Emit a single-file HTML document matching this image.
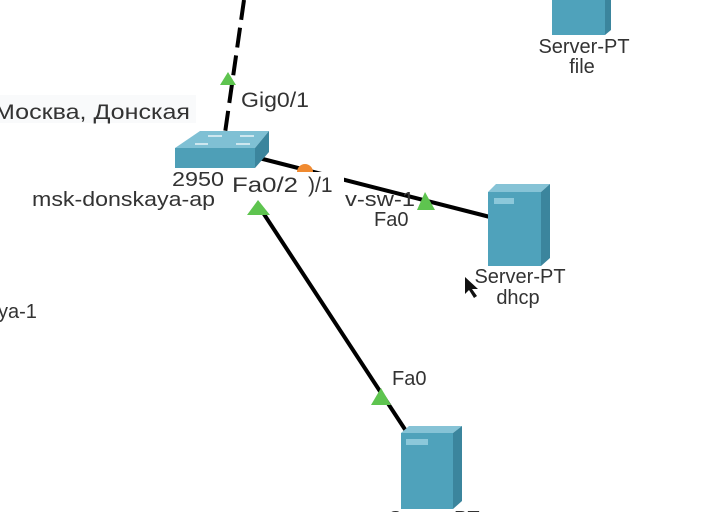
<!DOCTYPE html>
<html><head><meta charset="utf-8"><style>
html,body{margin:0;padding:0;background:#fff;width:724px;height:512px;overflow:hidden}
text{font-family:"Liberation Sans","DejaVu Sans",sans-serif;fill:#333}
</style></head><body>
<svg width="724" height="512" viewBox="0 0 724 512" xmlns="http://www.w3.org/2000/svg">
<rect width="724" height="512" fill="#fff"/>
<rect x="0" y="95" width="196" height="28" fill="#f9fafb"/>
<text x="-6" y="119" font-size="21" textLength="196" lengthAdjust="spacingAndGlyphs">Москва, Донская</text>
<line x1="244" y1="0" x2="224" y2="140" stroke="#000" stroke-width="4" stroke-dasharray="20,8"/>
<polygon points="228,72 220,85 236,85" fill="#5ec44f"/>
<text x="241" y="107" font-size="21" textLength="68" lengthAdjust="spacingAndGlyphs">Gig0/1</text>
<line x1="255" y1="157" x2="490" y2="217" stroke="#000" stroke-width="4"/>
<line x1="258" y1="205" x2="408" y2="434" stroke="#000" stroke-width="4"/>
<path d="M297,172 a8,8 0 0 1 16,0 z" fill="#f08a30"/>
<text x="172" y="186" font-size="20" textLength="52" lengthAdjust="spacingAndGlyphs">2950</text>
<text x="32" y="206" font-size="20" textLength="183" lengthAdjust="spacingAndGlyphs">msk-donskaya-ap</text>
<text x="345" y="206" font-size="20" fill="#888" textLength="70" lengthAdjust="spacingAndGlyphs">v-sw-1</text>
<rect x="228" y="172" width="116" height="24" fill="#fff"/>
<text x="232" y="192" font-size="21" fill="#222" textLength="66" lengthAdjust="spacingAndGlyphs">Fa0/2</text>
<text x="308" y="192" font-size="21" fill="#222">)/1</text>
<polygon points="425,192 417,210 435,210" fill="#5ec44f"/>
<polygon points="381,388 371,405 391,405" fill="#5ec44f"/>
<polygon points="258,200 247,215 270,215" fill="#5ec44f"/>
<text x="374" y="226" font-size="20">Fa0</text>
<text x="392" y="385" font-size="20">Fa0</text>
<polygon points="175,148 200,131 269,131 255,148" fill="#7fc0d4"/>
<rect x="175" y="148" width="80" height="20" fill="#4e9fb7"/>
<polygon points="255,148 269,131 269,152 255,168" fill="#3b859d"/>
<g stroke="#e8f4f8" stroke-width="1.5"><line x1="208" y1="136" x2="222" y2="136"/><line x1="240" y1="136" x2="254" y2="136"/><line x1="195" y1="144" x2="208" y2="144"/><line x1="236" y1="144" x2="250" y2="144"/></g>
<rect x="552" y="0" width="53" height="35" fill="#4fa2bb"/>
<polygon points="605,0 611,0 611,30 605,35" fill="#3b859d"/>
<text x="584" y="53" font-size="20" text-anchor="middle">Server-PT</text>
<text x="582" y="73" font-size="20" text-anchor="middle">file</text>
<polygon points="488,192 496,184 550,184 541,192" fill="#86c3d6"/>
<rect x="488" y="192" width="53" height="74" fill="#4fa2bb"/>
<polygon points="541,192 550,184 550,258 541,266" fill="#3b859d"/>
<rect x="494" y="198" width="20" height="6" fill="#8cc8da"/>
<text x="520" y="283" font-size="20" text-anchor="middle">Server-PT</text>
<text x="518" y="304" font-size="20" text-anchor="middle">dhcp</text>
<path d="M465,277 l0,17 l4,-4 l5,8 l3,-2 l-5,-7 l6,0 z" fill="#111"/>
<polygon points="401,433 409,426 462,426 453,433" fill="#86c3d6"/>
<rect x="401" y="433" width="52" height="76" fill="#4fa2bb"/>
<polygon points="453,433 462,426 462,501 453,509" fill="#3b859d"/>
<rect x="406" y="439" width="22" height="6" fill="#8cc8da"/>
<text x="434" y="525" font-size="20" text-anchor="middle">Server-PT</text>
<text x="-2" y="318" font-size="20">ya-1</text>
</svg>
</body></html>
